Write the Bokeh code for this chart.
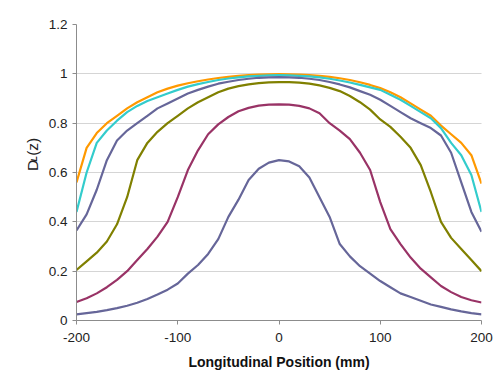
import math
from bokeh.plotting import figure
from bokeh.layouts import row
from bokeh.models import Range1d, FixedTicker, CustomJSTickFormatter, Label
from bokeh.embed import file_html
from bokeh.resources import INLINE

positions = [-200, -190, -180, -170, -160, -150, -140, -130, -120, -110, -100,
             -90, -80, -70, -60, -50, -40, -30, -20, -10, 0,
             10, 20, 30, 40, 50, 60, 70, 80, 90, 100,
             110, 120, 130, 140, 150, 160, 170, 180, 190, 200]

orange = [0.56, 0.70, 0.76, 0.80, 0.83, 0.86, 0.885, 0.905, 0.925, 0.94, 0.952,
          0.962, 0.97, 0.977, 0.983, 0.988, 0.992, 0.995, 0.997, 0.998, 0.999,
          0.998, 0.997, 0.995, 0.992, 0.988, 0.982, 0.975, 0.966, 0.955, 0.942,
          0.925, 0.905, 0.88, 0.855, 0.83, 0.79, 0.755, 0.72, 0.67, 0.555]

cyan = [0.44, 0.60, 0.72, 0.77, 0.81, 0.845, 0.87, 0.89, 0.905, 0.92, 0.935,
        0.948, 0.958, 0.967, 0.975, 0.981, 0.986, 0.99, 0.992, 0.994, 0.995,
        0.994, 0.992, 0.99, 0.986, 0.98, 0.973, 0.965, 0.955, 0.945, 0.935,
        0.915, 0.895, 0.87, 0.845, 0.82, 0.78, 0.72, 0.67, 0.59, 0.44]

slate = [0.365, 0.43, 0.53, 0.65, 0.73, 0.77, 0.80, 0.83, 0.86, 0.88, 0.90,
         0.92, 0.935, 0.948, 0.96, 0.968, 0.975, 0.98, 0.984, 0.986, 0.987,
         0.986, 0.984, 0.98, 0.975, 0.967, 0.957, 0.945, 0.93, 0.915, 0.895,
         0.87, 0.845, 0.82, 0.80, 0.78, 0.75, 0.68, 0.56, 0.44, 0.36]

olive = [0.205, 0.24, 0.275, 0.32, 0.39, 0.50, 0.65, 0.72, 0.765, 0.80, 0.83,
         0.86, 0.885, 0.905, 0.925, 0.94, 0.95, 0.957, 0.962, 0.965, 0.966,
         0.966, 0.964, 0.96, 0.953, 0.943, 0.93, 0.91, 0.885, 0.855, 0.815,
         0.785, 0.745, 0.70, 0.63, 0.52, 0.40, 0.335, 0.29, 0.245, 0.20]

maroon = [0.075, 0.09, 0.11, 0.135, 0.165, 0.20, 0.245, 0.29, 0.34, 0.40, 0.50,
          0.61, 0.69, 0.755, 0.795, 0.825, 0.848, 0.862, 0.871, 0.875, 0.876,
          0.875, 0.87, 0.86, 0.84, 0.80, 0.77, 0.735, 0.68, 0.61, 0.48,
          0.37, 0.31, 0.255, 0.21, 0.175, 0.14, 0.115, 0.095, 0.082, 0.073]

lowest = [0.025, 0.03, 0.035, 0.042, 0.05, 0.06, 0.072, 0.087, 0.105, 0.125, 0.15,
          0.19, 0.225, 0.27, 0.33, 0.42, 0.49, 0.57, 0.615, 0.64, 0.65,
          0.645, 0.625, 0.58, 0.50, 0.42, 0.31, 0.26, 0.22, 0.19, 0.16,
          0.135, 0.11, 0.095, 0.08, 0.065, 0.055, 0.045, 0.037, 0.03, 0.025]

series = [
    (orange, "#FF9900"),
    (cyan, "#33CCCC"),
    (slate, "#666699"),
    (olive, "#808000"),
    (maroon, "#993366"),
    (lowest, "#666699"),
]

x_ticks = [-200, -100, 0, 100, 200]
y_ticks = [0, 0.2, 0.4, 0.6, 0.8, 1.0, 1.2]

FONT = "Liberation Sans"
H = 372
LW = 44            # width of the y-title strip
PW = 493 - LW      # width of the plot figure

# ---- strip holding the rotated y-axis title "D_L (z)" ----
yt = figure(width=LW, height=H, output_backend="svg", toolbar_location=None,
            x_range=Range1d(0, LW), y_range=Range1d(H, 0),
            x_axis_type=None, y_axis_type=None,
            min_border_left=0, min_border_right=0, min_border_top=0,
            min_border_bottom=0)
yt.outline_line_color = None
yt.grid.visible = False
common = dict(angle=math.pi / 2, text_font=FONT, text_color="#222222",
              text_align="left", text_baseline="alphabetic")
yt.add_layout(Label(x=32, y=184, text="D", text_font_size="15.5px", **common))
yt.add_layout(Label(x=33, y=172.5, text="L", text_font_size="9.5px",
                    text_font_style="bold italic", **common))
yt.add_layout(Label(x=32, y=165, text="(z)", text_font_size="15.5px", **common))

# ---- main plot ----
p = figure(width=PW, height=H, output_backend="svg", toolbar_location=None,
           x_range=Range1d(-200, 200), y_range=Range1d(0, 1.2),
           min_border_left=76 - LW, min_border_right=12, min_border_top=24,
           min_border_bottom=52)
p.outline_line_color = None
p.background_fill_color = "white"

for ys, col in series:
    p.line(positions, ys, line_color=col, line_width=2.2)

p.xgrid.visible = False
p.ygrid.ticker = FixedTicker(ticks=y_ticks)
p.ygrid.grid_line_color = "#AAAAAA"
p.ygrid.grid_line_dash = "1 1"
p.ygrid.grid_line_width = 1

yfmt = CustomJSTickFormatter(code="return tick.toFixed(1).replace(/\\.0$/, '');")
xfmt = CustomJSTickFormatter(code="return tick.toFixed(0);")

p.xaxis.ticker = FixedTicker(ticks=x_ticks)
p.yaxis.ticker = FixedTicker(ticks=y_ticks)
p.xaxis.formatter = xfmt
p.yaxis.formatter = yfmt
for ax in (p.xaxis[0], p.yaxis[0]):
    ax.axis_line_color = "#8C8C8C"
    ax.major_tick_line_color = "#8C8C8C"
    ax.major_tick_out = 4
    ax.major_tick_in = 0
    ax.minor_tick_line_color = None
    ax.major_label_text_font = FONT
    ax.major_label_text_font_size = "13.5px"
    ax.major_label_text_color = "#222222"
p.xaxis.major_label_standoff = 8
p.yaxis.major_label_standoff = 5

p.xaxis.axis_label = "Longitudinal Position (mm)"
p.xaxis.axis_label_text_font = FONT
p.xaxis.axis_label_text_font_style = "bold"
p.xaxis.axis_label_text_font_size = "14px"
p.xaxis.axis_label_text_color = "#111111"
p.xaxis.axis_label_standoff = 9

layout = row(yt, p, spacing=0)
open("out.html", "w").write(file_html(layout, INLINE))
